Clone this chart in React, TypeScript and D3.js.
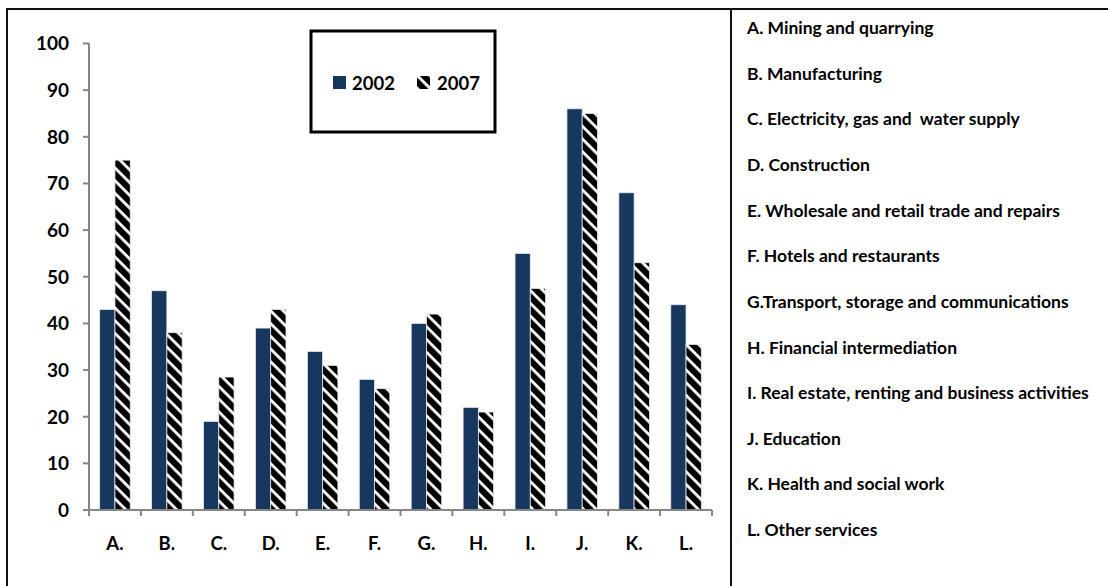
import React from "react";
import * as d3 from "d3";

const categories = ["A.", "B.", "C.", "D.", "E.", "F.", "G.", "H.", "I.", "J.", "K.", "L."];
const series = ["2002", "2007"];
const values2002 = [43, 47, 19, 39, 34, 28, 40, 22, 55, 86, 68, 44];
const values2007 = [75, 38, 28.5, 43, 31, 26, 42, 21, 47.5, 85, 53, 35.5];
const yTicks = [0, 10, 20, 30, 40, 50, 60, 70, 80, 90, 100];
const descriptions = [
  "A. Mining and quarrying",
  "B. Manufacturing",
  "C. Electricity, gas and  water supply",
  "D. Construction",
  "E. Wholesale and retail trade and repairs",
  "F. Hotels and restaurants",
  "G.Transport, storage and communications",
  "H. Financial intermediation",
  "I. Real estate, renting and business activities",
  "J. Education",
  "K. Health and social work",
  "L. Other services",
];

const W = 1108;
const H = 586;
const FONT = "Lato, 'Open Sans', sans-serif";
const NAVY = "#17375E";

export default function App() {
  const x = d3.scaleBand<string>().domain(categories).range([89, 712]).padding(0);
  const xs = d3
    .scaleBand<string>()
    .domain(series)
    .range([0, x.bandwidth()])
    .paddingInner(0)
    .paddingOuter(0.7);
  const y = d3.scaleLinear().domain([0, 100]).range([510, 43.5]);
  const descY = d3.scaleLinear().domain([0, descriptions.length - 1]).range([28, 530]);

  const data = [values2002, values2007];
  const fills = [NAVY, "url(#hatch)"];

  return (
    <svg
      width={W}
      height={H}
      style={{ position: "absolute", left: 0, top: 0, background: "#fff" }}
      fontFamily={FONT}
    >
      <defs>
        <pattern
          id="hatch"
          patternUnits="userSpaceOnUse"
          width={9}
          height={9}
          patternTransform="rotate(45)"
        >
          <rect width={9} height={9} fill="#000" />
          <rect y={0} width={9} height={2.8} fill="#fff" />
        </pattern>
      </defs>

      {/* frame */}
      <line x1={7} x2={W} y1={9} y2={9} stroke="#111" strokeWidth={2} />
      <line x1={7} x2={7} y1={8} y2={H} stroke="#111" strokeWidth={2} />
      <line x1={731} x2={731} y1={8} y2={H} stroke="#111" strokeWidth={2} />

      {/* bars */}
      {series.map((s, si) =>
        categories.map((c, ci) => {
          const v = data[si][ci];
          const bx = (x(c) ?? 0) + (xs(s) ?? 0);
          return (
            <rect
              key={s + c}
              x={bx}
              y={y(v)}
              width={xs.bandwidth()}
              height={y(0) - y(v)}
              fill={fills[si]}
              stroke="#e6e9ee"
              strokeWidth={0.8}
            />
          );
        })
      )}

      {/* y axis */}
      <line x1={89} x2={89} y1={y(100)} y2={y(0)} stroke="#868686" strokeWidth={2} />
      {yTicks.map((t) => (
        <g key={t}>
          <line x1={83} x2={89} y1={y(t)} y2={y(t)} stroke="#868686" strokeWidth={2} />
          <text
            x={69}
            y={y(t)}
            dy="0.36em"
            textAnchor="end"
            fontSize={19}
            fontWeight="bold"
            fill="#000"
          >
            {t}
          </text>
        </g>
      ))}

      {/* x axis */}
      <line x1={89} x2={712} y1={y(0)} y2={y(0)} stroke="#868686" strokeWidth={2} />
      {[...categories.map((c) => x(c) ?? 0), 712].map((px, i) => (
        <line key={i} x1={px} x2={px} y1={y(0)} y2={y(0) + 6} stroke="#868686" strokeWidth={2} />
      ))}
      {categories.map((c) => (
        <text
          key={c}
          x={(x(c) ?? 0) + x.bandwidth() / 2}
          y={550}
          textAnchor="middle"
          fontSize={18.5}
          fontWeight="bold"
          fill="#000"
        >
          {c}
        </text>
      ))}

      {/* legend */}
      <rect x={311} y={31} width={184} height={101} fill="#fff" stroke="#000" strokeWidth={3} />
      <rect x={333} y={76} width={13} height={13} fill={NAVY} />
      <text x={352} y={89.5} fontSize={18.5} fontWeight="bold" fill="#000">
        {series[0]}
      </text>
      <rect x={417} y={76} width={13} height={13} fill="url(#hatch)" />
      <text x={437} y={89.5} fontSize={18.5} fontWeight="bold" fill="#000">
        {series[1]}
      </text>

      {/* descriptions */}
      {descriptions.map((d, i) => (
        <text
          key={d}
          x={747}
          y={descY(i)}
          dy="0.35em"
          fontSize={17.5}
          fontWeight="bold"
          fill="#000"
          style={{ whiteSpace: "pre" }}
        >
          {d}
        </text>
      ))}
    </svg>
  );
}
